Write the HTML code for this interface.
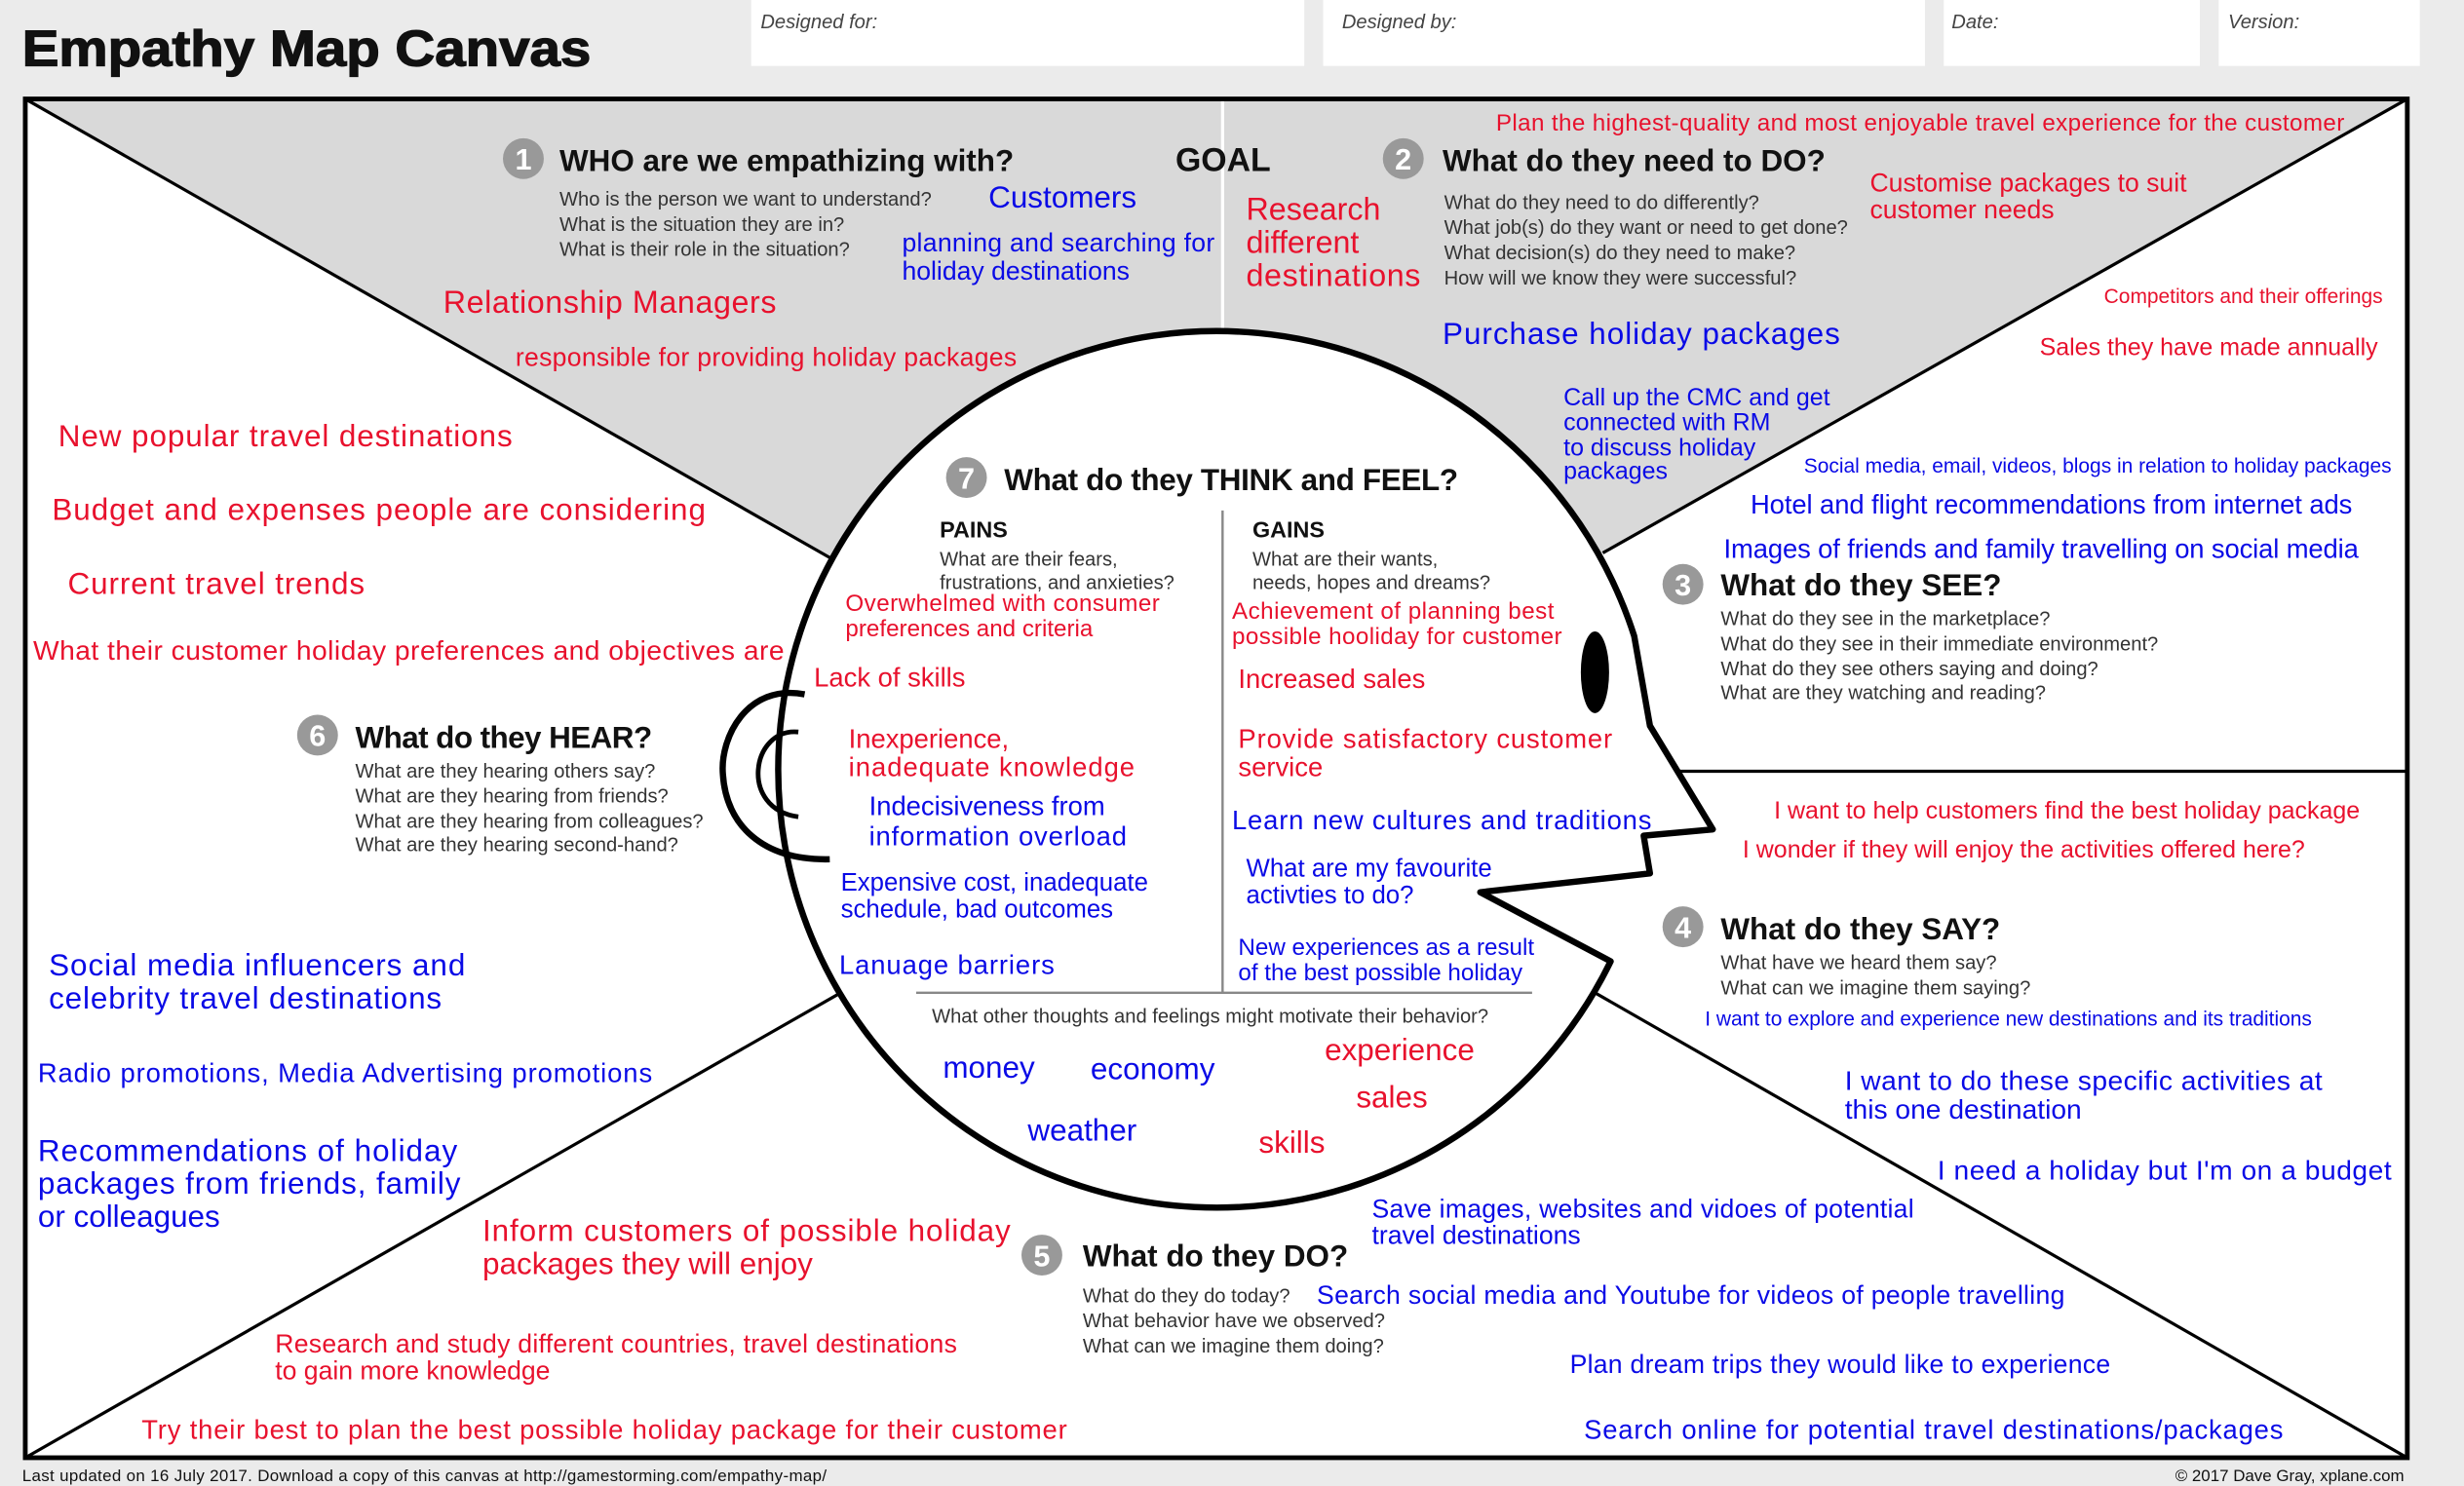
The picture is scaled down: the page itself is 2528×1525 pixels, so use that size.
<!DOCTYPE html>
<html><head><meta charset="utf-8"><style>
html,body{margin:0;padding:0;background:#ebebeb;}
svg{display:block;}
text{font-family:"Liberation Sans",Arial,sans-serif;}
.r{fill:#e8112d;font-size:18.5px;}
.b{fill:#0a0ae6;font-size:18.5px;}
.rs{fill:#e8112d;font-size:13px;}
.bs{fill:#0a0ae6;font-size:13px;}
.g{fill:#333;font-size:12.5px;}
.h{fill:#111;font-size:19.5px;font-weight:bold;}
.n{fill:#fff;font-size:19px;font-weight:bold;text-anchor:middle;}
.lab{fill:#444;font-size:12.5px;font-style:italic;}
</style></head><body>
<svg width="2528" height="1525" viewBox="0 0 1568 946" xmlns="http://www.w3.org/2000/svg">
<rect x="0" y="0" width="1568" height="946" fill="#ebebeb"/>
<text x="14" y="42" textLength="362" lengthAdjust="spacingAndGlyphs" style="font-size:32px;font-weight:bold;fill:#111;stroke:#111;stroke-width:0.8">Empathy Map Canvas</text>
<rect x="478" y="0" width="352" height="42" fill="#fff"/><text x="484" y="18" class="lab">Designed for:</text>
<rect x="842" y="0" width="383" height="42" fill="#fff"/><text x="854" y="18" class="lab">Designed by:</text>
<rect x="1237" y="0" width="163" height="42" fill="#fff"/><text x="1242" y="18" class="lab">Date:</text>
<rect x="1412" y="0" width="128" height="42" fill="#fff"/><text x="1418" y="18" class="lab">Version:</text>

<rect x="16" y="63" width="1516" height="865" fill="#fff"/>
<polygon points="16,63 1532,63 1020,352 528,355" fill="#d9d9d9"/>
<g stroke="#000" stroke-width="2" fill="none">
<line x1="16" y1="63" x2="528" y2="355"/>
<line x1="1532" y1="63" x2="1020" y2="352"/>
<line x1="16" y1="928" x2="535" y2="632"/>
<line x1="1015" y1="632" x2="1532" y2="928"/>
<line x1="1065" y1="491" x2="1532" y2="491"/>
</g>
<line x1="778" y1="63" x2="778" y2="210" stroke="#fff" stroke-width="2"/>
<path d="M 1025,612 A 279 279 0 1 1 1040,405 L 1050,462 L 1090,528 L 1046,532 L 1050,556 L 942,568 Z" fill="#fff" stroke="#000" stroke-width="4" stroke-linejoin="round"/>
<path d="M 512,442 C 475,435 458,470 460,493 C 462,525 485,548 528,547" fill="none" stroke="#000" stroke-width="4"/>
<path d="M 508,466 C 478,463 470,515 508,520" fill="none" stroke="#000" stroke-width="3"/>
<ellipse cx="1015" cy="428" rx="9" ry="26" fill="#000"/>
<line x1="778" y1="325" x2="778" y2="632" stroke="#888" stroke-width="1.5"/>
<line x1="583" y1="632" x2="975" y2="632" stroke="#888" stroke-width="1.5"/>
<rect x="16" y="63" width="1516" height="865" fill="none" stroke="#000" stroke-width="3"/>

<circle cx="333" cy="101" r="13" fill="#999"/><text x="333" y="108" class="n">1</text>
<text x="356" y="109" class="h">WHO are we empathizing with?</text>
<text x="356" y="131" class="g">Who is the person we want to understand?</text>
<text x="356" y="147" class="g">What is the situation they are in?</text>
<text x="356" y="163" class="g">What is their role in the situation?</text>
<text x="629" y="132" class="b" style="font-size:19.5px">Customers</text>
<text x="574" y="160" class="b" style="font-size:16.5px" textLength="199">planning and searching for</text>
<text x="574" y="178" class="b" style="font-size:16.5px">holiday destinations</text>
<text x="282" y="199" class="r" style="font-size:20px" textLength="212">Relationship Managers</text>
<text x="328" y="233" class="r" style="font-size:16.5px" textLength="319">responsible for providing holiday packages</text>
<text x="748" y="109" class="h" style="font-size:21px">GOAL</text>
<text x="793" y="140" class="r" style="font-size:20px">Research</text>
<text x="793" y="161" class="r" style="font-size:20px">different</text>
<text x="793" y="182" class="r" style="font-size:20px" textLength="111">destinations</text>
<text x="952" y="83" class="r" style="font-size:15px" textLength="540">Plan the highest-quality and most enjoyable travel experience for the customer</text>
<circle cx="893" cy="101" r="13" fill="#999"/><text x="893" y="108" class="n">2</text>
<text x="918" y="109" class="h">What do they need to DO?</text>
<text x="919" y="133" class="g">What do they need to do differently?</text>
<text x="919" y="149" class="g">What job(s) do they want or need to get done?</text>
<text x="919" y="165" class="g">What decision(s) do they need to make?</text>
<text x="919" y="181" class="g">How will we know they were successful?</text>
<text x="1190" y="122" class="r" style="font-size:16.5px">Customise packages to suit</text>
<text x="1190" y="139" class="r" style="font-size:16.5px">customer needs</text>
<text x="1339" y="193" class="rs">Competitors and their offerings</text>
<text x="1298" y="226" class="r" style="font-size:15.5px">Sales they have made annually</text>
<text x="918" y="219" class="b" style="font-size:19.5px" textLength="253">Purchase holiday packages</text>
<text x="995" y="258" class="b" style="font-size:15.5px">Call up the CMC and get</text>
<text x="995" y="274" class="b" style="font-size:15.5px">connected with RM</text>
<text x="995" y="290" class="b" style="font-size:15.5px">to discuss holiday</text>
<text x="995" y="305" class="b" style="font-size:15.5px">packages</text>
<text x="1148" y="301" class="bs">Social media, email, videos, blogs in relation to holiday packages</text>
<text x="1114" y="327" class="b" style="font-size:17px" textLength="383">Hotel and flight recommendations from internet ads</text>
<text x="1097" y="355" class="b" style="font-size:17px" textLength="404">Images of friends and family travelling on social media</text>
<circle cx="1071" cy="372" r="13" fill="#999"/><text x="1071" y="379" class="n">3</text>
<text x="1095" y="379" class="h">What do they SEE?</text>
<text x="1095" y="398" class="g">What do they see in the marketplace?</text>
<text x="1095" y="414" class="g">What do they see in their immediate environment?</text>
<text x="1095" y="430" class="g">What do they see others saying and doing?</text>
<text x="1095" y="445" class="g">What are they watching and reading?</text>
<text x="1129" y="521" class="r" style="font-size:15.5px">I want to help customers find the best holiday package</text>
<text x="1109" y="546" class="r" style="font-size:15.5px">I wonder if they will enjoy the activities offered here?</text>
<circle cx="1071" cy="590" r="13" fill="#999"/><text x="1071" y="597" class="n">4</text>
<text x="1095" y="598" class="h">What do they SAY?</text>
<text x="1095" y="617" class="g">What have we heard them say?</text>
<text x="1095" y="633" class="g">What can we imagine them saying?</text>
<text x="1085" y="653" class="bs">I want to explore and experience new destinations and its traditions</text>
<text x="1174" y="694" class="b" style="font-size:17.5px" textLength="304">I want to do these specific activities at</text>
<text x="1174" y="712" class="b" style="font-size:17.5px">this one destination</text>
<text x="1233" y="751" class="b" style="font-size:17.5px" textLength="289">I need a holiday but I'm on a budget</text>
<text x="873" y="775" class="b" style="font-size:16.5px" textLength="345">Save images, websites and vidoes of potential</text>
<text x="873" y="792" class="b" style="font-size:16.5px">travel destinations</text>
<circle cx="663" cy="799" r="13" fill="#999"/><text x="663" y="806" class="n">5</text>
<text x="689" y="806" class="h">What do they DO?</text>
<text x="689" y="829" class="g">What do they do today?</text>
<text x="689" y="845" class="g">What behavior have we observed?</text>
<text x="689" y="861" class="g">What can we imagine them doing?</text>
<text x="838" y="830" class="b" style="font-size:16.5px" textLength="476">Search social media and Youtube for videos of people travelling</text>
<text x="999" y="874" class="b" style="font-size:16.5px" textLength="344">Plan dream trips they would like to experience</text>
<text x="1008" y="916" class="b" style="font-size:17px" textLength="445">Search online for potential travel destinations/packages</text>
<text x="307" y="790" class="r" style="font-size:19.5px" textLength="336">Inform customers of possible holiday</text>
<text x="307" y="811" class="r" style="font-size:19.5px">packages they will enjoy</text>
<text x="175" y="861" class="r" style="font-size:16.5px" textLength="434">Research and study different countries, travel destinations</text>
<text x="175" y="878" class="r" style="font-size:16.5px">to gain more knowledge</text>
<text x="90" y="916" class="r" style="font-size:17px" textLength="589">Try their best to plan the best possible holiday package for their customer</text>
<text x="37" y="284" class="r" style="font-size:19.5px" textLength="289">New popular travel destinations</text>
<text x="33" y="331" class="r" style="font-size:19.5px" textLength="416">Budget and expenses people are considering</text>
<text x="43" y="378" class="r" style="font-size:19.5px" textLength="189">Current travel trends</text>
<text x="21" y="420" class="r" style="font-size:17.5px" textLength="478">What their customer holiday preferences and objectives are</text>
<circle cx="202" cy="468" r="13" fill="#999"/><text x="202" y="475" class="n">6</text>
<text x="226" y="476" class="h" textLength="189">What do they HEAR?</text>
<text x="226" y="495" class="g">What are they hearing others say?</text>
<text x="226" y="511" class="g">What are they hearing from friends?</text>
<text x="226" y="527" class="g">What are they hearing from colleagues?</text>
<text x="226" y="542" class="g">What are they hearing second-hand?</text>
<text x="31" y="621" class="b" style="font-size:19.5px" textLength="265">Social media influencers and</text>
<text x="31" y="642" class="b" style="font-size:19.5px" textLength="250">celebrity travel destinations</text>
<text x="24" y="689" class="b" style="font-size:17px" textLength="391">Radio promotions, Media Advertising promotions</text>
<text x="24" y="739" class="b" style="font-size:19.5px" textLength="267">Recommendations of holiday</text>
<text x="24" y="760" class="b" style="font-size:19.5px" textLength="269">packages from friends, family</text>
<text x="24" y="781" class="b" style="font-size:19.5px">or colleagues</text>
<circle cx="615" cy="304" r="13" fill="#999"/><text x="615" y="311" class="n">7</text>
<text x="639" y="312" class="h" textLength="289">What do they THINK and FEEL?</text>
<text x="598" y="342" style="font-size:14.5px;font-weight:bold;fill:#111">PAINS</text>
<text x="598" y="360" class="g">What are their fears,</text>
<text x="598" y="375" class="g">frustrations, and anxieties?</text>
<text x="797" y="342" style="font-size:14.5px;font-weight:bold;fill:#111">GAINS</text>
<text x="797" y="360" class="g">What are their wants,</text>
<text x="797" y="375" class="g">needs, hopes and dreams?</text>
<text x="538" y="389" class="r" style="font-size:15px" textLength="200">Overwhelmed with consumer</text>
<text x="538" y="405" class="r" style="font-size:15px">preferences and criteria</text>
<text x="784" y="394" class="r" style="font-size:15px" textLength="205">Achievement of planning best</text>
<text x="784" y="410" class="r" style="font-size:15px" textLength="210">possible hooliday for customer</text>
<text x="518" y="437" class="r" style="font-size:17px">Lack of skills</text>
<text x="788" y="438" class="r" style="font-size:17px">Increased sales</text>
<text x="540" y="476" class="r" style="font-size:17px">Inexperience,</text>
<text x="540" y="494" class="r" style="font-size:17px" textLength="182">inadequate knowledge</text>
<text x="788" y="476" class="r" style="font-size:17px" textLength="238">Provide satisfactory customer</text>
<text x="788" y="494" class="r" style="font-size:17px">service</text>
<text x="553" y="519" class="b" style="font-size:17px">Indecisiveness from</text>
<text x="553" y="538" class="b" style="font-size:17px" textLength="164">information overload</text>
<text x="784" y="528" class="b" style="font-size:17px" textLength="267">Learn new cultures and traditions</text>
<text x="793" y="558" class="b" style="font-size:16px">What are my favourite</text>
<text x="793" y="575" class="b" style="font-size:16px">activties to do?</text>
<text x="535" y="567" class="b" style="font-size:16px">Expensive cost, inadequate</text>
<text x="535" y="584" class="b" style="font-size:16px">schedule, bad outcomes</text>
<text x="788" y="608" class="b" style="font-size:15px">New experiences as a result</text>
<text x="788" y="624" class="b" style="font-size:15px">of the best possible holiday</text>
<text x="534" y="620" class="b" style="font-size:17px" textLength="137">Lanuage barriers</text>
<text x="593" y="651" class="g">What other thoughts and feelings might motivate their behavior?</text>
<text x="600" y="686" class="b" style="font-size:19.5px">money</text>
<text x="694" y="687" class="b" style="font-size:19.5px">economy</text>
<text x="843" y="675" class="r" style="font-size:19.5px">experience</text>
<text x="863" y="705" class="r" style="font-size:19.5px">sales</text>
<text x="654" y="726" class="b" style="font-size:19.5px">weather</text>
<text x="801" y="734" class="r" style="font-size:19.5px">skills</text>
<text x="14" y="943" style="font-size:10.5px;fill:#111" textLength="512">Last updated on 16 July 2017. Download a copy of this canvas at http://gamestorming.com/empathy-map/</text>
<text x="1530" y="943" style="font-size:10.5px;fill:#111" text-anchor="end">© 2017 Dave Gray, xplane.com</text>
</svg>
</body></html>
